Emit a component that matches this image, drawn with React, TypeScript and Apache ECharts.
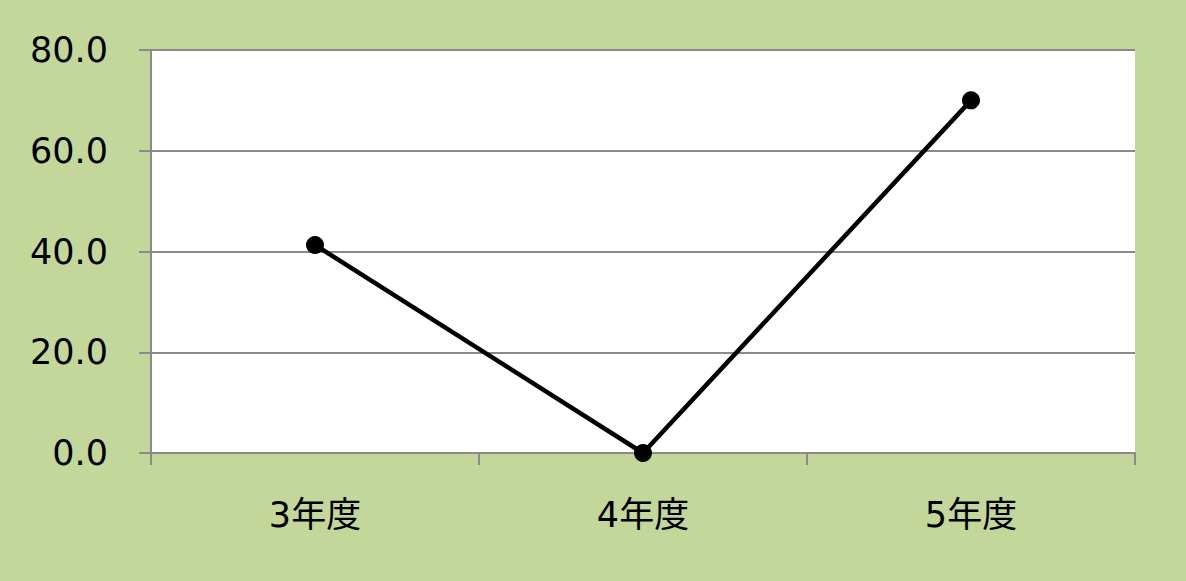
import React, { useEffect, useRef } from "react";
import * as echarts from "echarts";

const categories = ["3年度", "4年度", "5年度"];
const values = [41.3, 0, 70];
const yTicks = { min: 0, max: 80, interval: 20 };

export default function App() {
  const ref = useRef<HTMLDivElement>(null);
  useEffect(() => {
    document.body.style.margin = "0";
    const chart = echarts.init(ref.current!, null, { renderer: "svg" });
    const font = "'DejaVu Sans', 'Noto Sans CJK JP', sans-serif";
    chart.setOption({
      animation: false,
      backgroundColor: "#c4d79b",
      grid: { left: 151, right: 51, top: 50, bottom: 128, show: true, backgroundColor: "#ffffff", borderWidth: 0 },
      xAxis: {
        type: "category",
        data: categories,
        boundaryGap: true,
        axisLine: { show: true, lineStyle: { color: "#8a8a8a", width: 2 } },
        axisTick: { show: true, length: 12, alignWithLabel: false, lineStyle: { color: "#8a8a8a", width: 2 } },
        axisLabel: { color: "#000", fontSize: 35, fontFamily: font, margin: 44 },
      },
      yAxis: {
        type: "value",
        min: yTicks.min,
        max: yTicks.max,
        interval: yTicks.interval,
        axisLine: { show: true, lineStyle: { color: "#8a8a8a", width: 2 } },
        axisTick: { show: true, length: 12, lineStyle: { color: "#8a8a8a", width: 2 } },
        splitLine: { show: true, lineStyle: { color: "#8a8a8a", width: 2 } },
        axisLabel: { color: "#000", fontSize: 35, fontFamily: font, margin: 43, formatter: (v: number) => v.toFixed(1) },
      },
      series: [
        {
          type: "line",
          data: values,
          symbol: "circle",
          symbolSize: 18,
          lineStyle: { color: "#000", width: 4.5 },
          itemStyle: { color: "#000" },
        },
      ],
    });
    return () => chart.dispose();
  }, []);
  return <div ref={ref} style={{ width: 1186, height: 581 }} />;
}
